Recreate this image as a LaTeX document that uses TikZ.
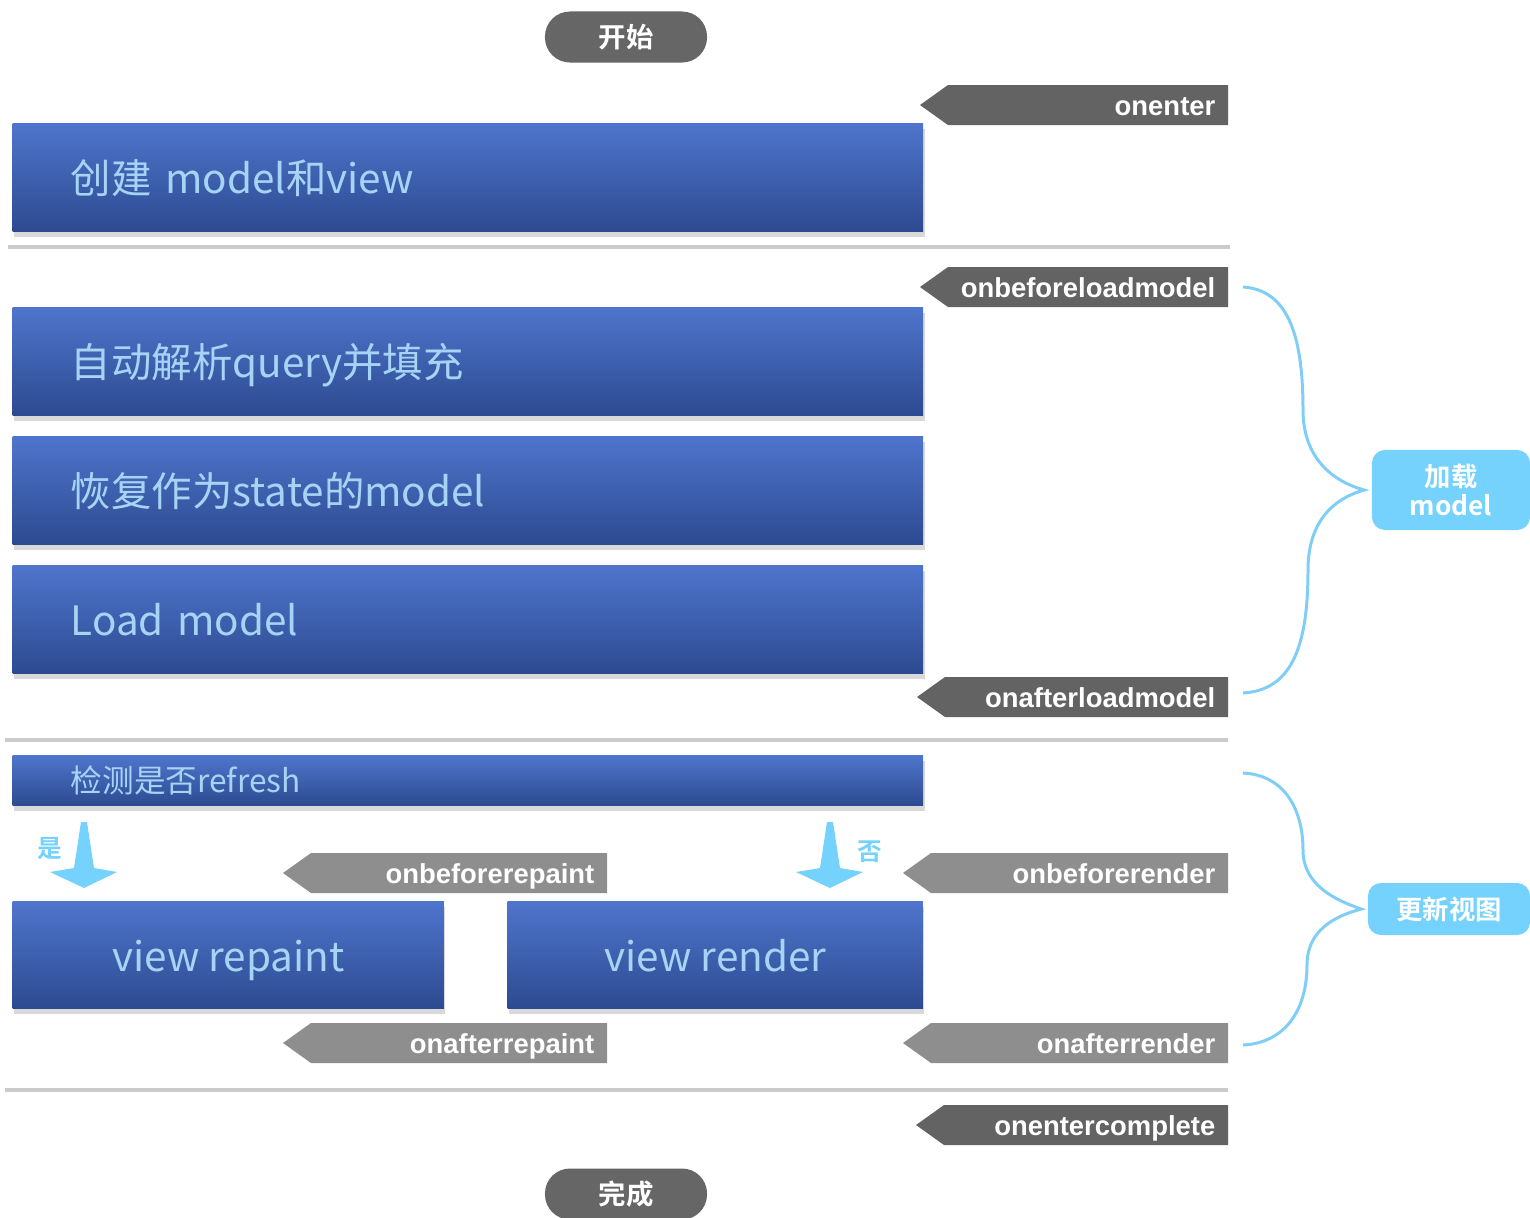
\documentclass[tikz,border=0pt]{standalone}
\usepackage{fontspec}
\setmainfont{Noto Sans CJK SC}[BoldFont={* Bold}]
\newfontfamily\hookfont{Liberation Sans}[BoldFont={Liberation Sans Bold}]
\usetikzlibrary{calc}
\usetikzlibrary{shadows}
\definecolor{boxtop}{HTML}{4E75CC}
\definecolor{boxbot}{HTML}{2D4A90}
\definecolor{boxtext}{HTML}{A6D4F4}
\definecolor{hookdark}{HTML}{636363}
\definecolor{hooklight}{HTML}{8E8E8E}
\definecolor{pillgray}{HTML}{666666}
\definecolor{sky}{HTML}{74D2FD}
\definecolor{skyline}{HTML}{80CEF8}
\definecolor{rule}{HTML}{CBCBCB}
\tikzset{
  stage/.style={anchor=north west, top color=boxtop, bottom color=boxbot, draw=none,
    drop shadow={shadow xshift=0.015cm, shadow yshift=-0.05cm, fill=black, opacity=0.15},
    text=boxtext, inner sep=0pt, text height=0.36cm, text depth=0.04cm,
    font=\fontsize{11.5}{13}\selectfont},
  pill/.style={fill=pillgray, text=white, rounded corners=0.25cm, minimum width=1.62cm,
    minimum height=0.51cm, font=\bfseries\fontsize{7.8}{9}\selectfont},
  hooktext/.style={text=white, inner sep=0pt, text height=0.21cm, text depth=0.03cm,
    font=\hookfont\bfseries\fontsize{7.8}{9}\selectfont},
  tagbox/.style={fill=sky, text=white, rounded corners=0.13cm, align=center,
    font=\bfseries\fontsize{7.5}{8.4}\selectfont},
  brace/.style={draw=skyline, line width=0.85pt},
  sepline/.style={draw=rule, line width=1.4pt},
  yesno/.style={text=sky, font=\bfseries\fontsize{7}{8}\selectfont}
}
% name, tip x, right x, top y, colour, text
\newcommand{\hook}[6]{\fill[#5] (#2,#4+20) -- (#2+28,#4) -- (#3,#4) -- (#3,#4+40) -- (#2+28,#4+40) -- cycle;
  \node[hooktext, anchor=east] (#1) at (#3-12,#4+21) {#6};}
% top x, top y
\newcommand{\pointdown}[2]{\fill[sky] (#1-3,#2) -- (#1+3,#2) -- (#1+10,#2+46) -- (#1+33,#2+50) -- (#1,#2+66) -- (#1-34,#2+50) -- (#1-10,#2+46) -- cycle;}

\begin{document}
\begin{tikzpicture}[x=0.01cm, y=-0.01cm]
\useasboundingbox (0,0) rectangle (1530,1217);

\node[pill] (start) at (626,37) {开始};
\hook{enter}{920}{1228}{85}{hookdark}{onenter}
\node[stage, minimum width=9.10cm, minimum height=1.08cm, text width=7.94cm, inner xsep=0.58cm] (create) at (12,123) {创建 model和view};
\draw[sepline] (8,247) -- (1230,247);

% load model
\hook{beforeload}{920}{1228}{267}{hookdark}{onbeforeloadmodel}
\node[stage, minimum width=9.10cm, minimum height=1.08cm, text width=7.94cm, inner xsep=0.58cm] (query) at (12,307) {自动解析query并填充};
\node[stage, minimum width=9.10cm, minimum height=1.08cm, text width=7.94cm, inner xsep=0.58cm] (restore) at (12,436) {恢复作为state的model};
\node[stage, minimum width=9.10cm, minimum height=1.08cm, text width=7.94cm, inner xsep=0.58cm] (load) at (12,565) {Load model};
\hook{afterload}{917}{1228}{677}{hookdark}{onafterloadmodel}
\draw[sepline] (5,740) -- (1228,740);

% render
\node[stage, minimum width=9.10cm, minimum height=0.50cm, text width=7.94cm, inner xsep=0.58cm, text height=0.27cm, text depth=0.03cm, font=\fontsize{9}{10}\selectfont] (refresh) at (12,755) {检测是否refresh};
\pointdown{84}{822}
\node[yesno] (yes) at (50,849) {是};
\pointdown{830}{822}
\node[yesno] (no) at (870,852) {否};
\hook{beforerepaint}{283}{607}{853}{hooklight}{onbeforerepaint}
\hook{beforerender}{903}{1228}{853}{hooklight}{onbeforerender}
\node[stage, minimum width=4.31cm, minimum height=1.07cm, align=center] (repaint) at (12,901) {view repaint};
\node[stage, minimum width=4.15cm, minimum height=1.07cm, align=center] (render) at (507,901) {view render};
\hook{afterrepaint}{283}{607}{1023}{hooklight}{onafterrepaint}
\hook{afterrender}{903}{1228}{1023}{hooklight}{onafterrender}
\draw[sepline] (5,1090) -- (1228,1090);

\hook{complete}{916}{1228}{1105}{hookdark}{onentercomplete}
\node[pill] (done) at (626,1194) {完成};

% braces
\node[tagbox, minimum width=1.58cm, minimum height=0.80cm] (loadtag) at (1451,490) {加载\\model};
\node[tagbox, minimum width=1.62cm, minimum height=0.52cm] (viewtag) at (1449,909) {更新视图};
\coordinate (lt) at (1243,287);
\coordinate (lb) at (1243,693);
\coordinate (vt) at (1243,773);
\coordinate (vb) at (1243,1045);
\draw[brace] (lt) .. controls (1290,290) and (1303,340) .. (1303,410)
  .. controls (1303,460) and (1335,482) .. ([xshift=-0.07cm]loadtag.west)
  .. controls (1335,498) and (1308,520) .. (1308,570)
  .. controls (1308,650) and (1290,690) .. (lb);
\draw[brace] (vt) .. controls (1285,775) and (1303,810) .. (1303,850)
  .. controls (1303,885) and (1335,900) .. ([xshift=-0.06cm]viewtag.west)
  .. controls (1335,916) and (1307,930) .. (1307,965)
  .. controls (1307,1010) and (1285,1043) .. (vb);
\end{tikzpicture}
\end{document}
